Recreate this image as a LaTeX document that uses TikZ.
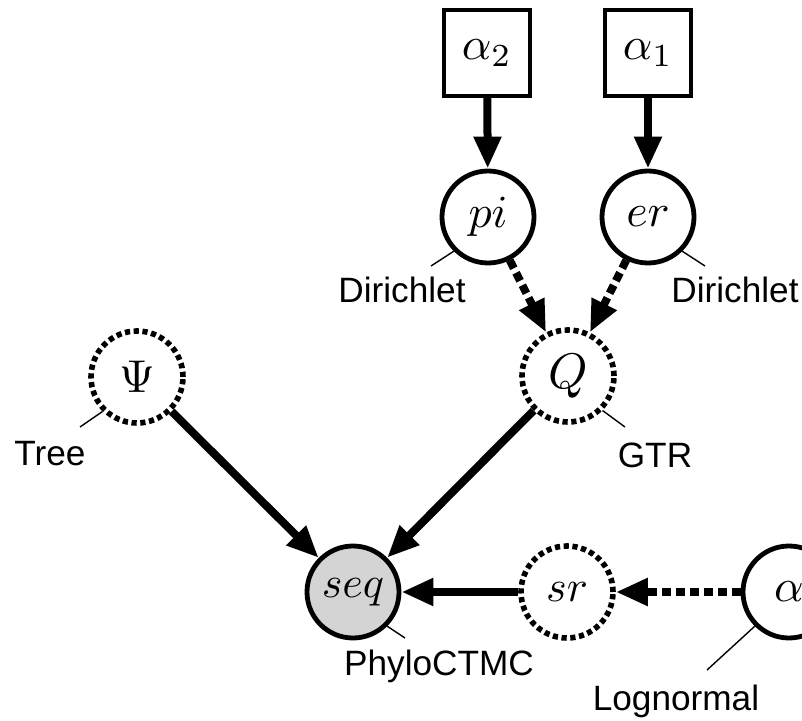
\documentclass[tikz,border=0pt]{standalone}
\usepackage{fontspec}
\newfontfamily\labelfont{Liberation Sans}
\usetikzlibrary{arrows.meta}
\definecolor{obsgray}{RGB}{212,212,212}
\newcommand{\mvar}[2][2.3]{\scalebox{#1}{$#2$}}
\begin{document}
\begin{tikzpicture}[x=0.5pt,y=-0.5pt,
  stochnode/.style={circle,draw,line width=2.4pt,minimum size=46pt,inner sep=0pt},
  detnode/.style={stochnode,dash pattern=on 2.6pt off 1.8pt,line width=2.8pt},
  obsnode/.style={stochnode,fill=obsgray},
  constnode/.style={rectangle,draw,line width=2.1pt,minimum size=43pt,inner sep=0pt},
  arr/.style={line width=4pt,-{Triangle[length=16pt,width=13pt]}},
  darr/.style={arr,dash pattern=on 4.5pt off 2.5pt},
  lbl/.style={anchor=base,font=\labelfont\fontsize{17.6}{20}\selectfont},
  tick/.style={line width=0.7pt}]
  \clip (0,0) rectangle (802,721);
  \useasboundingbox (0,0) rectangle (802,721);

  % constants
  \node[constnode] (a2) at (487,53) {\mvar{\alpha_2}};
  \node[constnode] (a1) at (648,53) {\mvar{\alpha_1}};

  % random variables
  \node[stochnode] (pi) at (488,217) {\mvar{pi}};
  \node[stochnode] (er) at (648,217) {\mvar{er}};
  \node[detnode] (Q) at (568,376) {\mvar[2.5]{Q}};
  \node[detnode] (Psi) at (137,377) {\mvar[2.3]{\Psi}};
  \node[obsnode] (seq) at (353,592) {\mvar[2.2]{seq}};
  \node[detnode] (sr) at (567,592) {\mvar[2.2]{sr}};
  \node[stochnode] (alpha) at (789,592) {\mvar{\alpha}};

  % edges
  \draw[arr] (a2) -- (pi);
  \draw[arr] (a1) -- (er);
  \draw[darr] (pi) -- (Q);
  \draw[darr] (er) -- (Q);
  \draw[arr] (Psi) -- (seq);
  \draw[arr] (Q) -- (seq);
  \draw[arr] (sr) -- (seq);
  \draw[darr] (alpha) -- (sr);

  % distribution labels
  \node[lbl] (lpi) at (402,303) {Dirichlet};
  \node[lbl] (ler) at (735,303) {Dirichlet};
  \node[lbl] (lpsi) at (50,465) {Tree};
  \node[lbl] (lq) at (655,467) {GTR};
  \node[lbl] (lseq) at (439,675) {PhyloCTMC};
  \node[lbl] (lalpha) at (676,710) {Lognormal};

  \coordinate (tpi) at (431,266);
  \coordinate (ter) at (705,266);
  \coordinate (tpsi) at (80,427);
  \coordinate (tq) at (625,427);
  \coordinate (tseq) at (405,638);
  \coordinate (talpha) at (707,670);

  \draw[tick] (pi.225) -- (tpi);
  \draw[tick] (er.-45) -- (ter);
  \draw[tick] (Psi.225) -- (tpsi);
  \draw[tick] (Q.-45) -- (tq);
  \draw[tick] (seq.-45) -- (tseq);
  \draw[tick] (alpha.225) -- (talpha);
\end{tikzpicture}
\end{document}
